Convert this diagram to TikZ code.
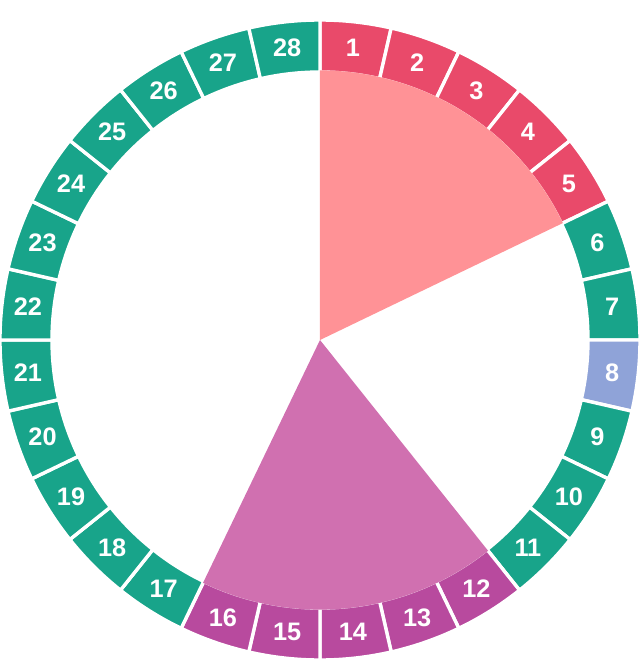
\documentclass[tikz,border=0pt]{standalone}
\usepackage{fontspec}
\setmainfont{Liberation Sans}
\definecolor{segred}{RGB}{233,74,106}
\definecolor{segteal}{RGB}{24,164,138}
\definecolor{segblue}{RGB}{143,163,216}
\definecolor{segpurple}{RGB}{184,74,158}
\definecolor{sectpink}{RGB}{255,146,150}
\definecolor{sectpurple}{RGB}{208,112,176}

\begin{document}
\begin{tikzpicture}[
    seg/.style={draw=white, line width=2.4pt},
    daylabel/.style={text=white, font=\bfseries\fontsize{18}{18}\selectfont},
    sect/.style={draw=none}
]
    \useasboundingbox (-8,-8) rectangle (8,8.5);

    % ring of days
    \foreach \i/\col in {1/segred, 2/segred, 3/segred, 4/segred, 5/segred,
        6/segteal, 7/segteal, 8/segblue, 9/segteal, 10/segteal, 11/segteal,
        12/segpurple, 13/segpurple, 14/segpurple, 15/segpurple, 16/segpurple,
        17/segteal, 18/segteal, 19/segteal, 20/segteal, 21/segteal, 22/segteal,
        23/segteal, 24/segteal, 25/segteal, 26/segteal, 27/segteal, 28/segteal} {
        \pgfmathsetmacro\a{90-(\i-1)*360/28}
        \pgfmathsetmacro\b{90-\i*360/28}
        \pgfmathsetmacro\m{(\a+\b)/2}
        \filldraw[seg, fill=\col] (\a:6.7) arc[start angle=\a, end angle=\b, radius=6.7]
            -- (\b:8) arc[start angle=\b, end angle=\a, radius=8] -- cycle;
        \node[daylabel] (d\i) at (\m:7.35) {\i};
    }

    % phases
    \fill[sectpink] (0,0) -- (90:6.74) arc[start angle=90, end angle=25.714, radius=6.74] -- cycle;
    \fill[sectpurple] (0,0) -- (-51.429:6.74) arc[start angle=-51.429, end angle=-115.714, radius=6.74] -- cycle;
\end{tikzpicture}
\end{document}
